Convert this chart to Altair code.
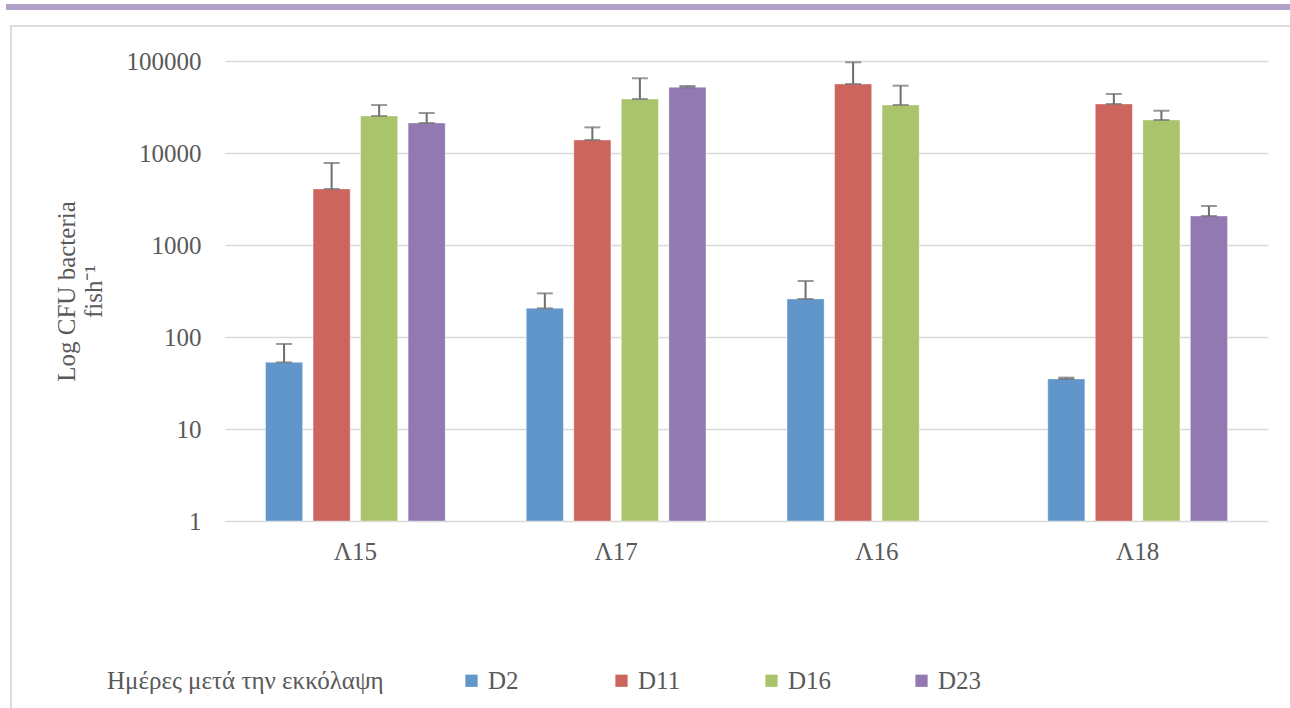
import altair as alt
import pandas as pd

# Fish groups (x axis order) and sampling days (series)
groups = ["Λ15", "Λ17", "Λ16", "Λ18"]
days = ["D2", "D11", "D16", "D23"]
day_colors = ["#6096CA", "#CD655F", "#AAC46C", "#9379B1"]

# Mean CFU per fish and the upper error for each group, one list per day
d2_mean = [53, 205, 259, 35]
d2_err = [31, 93, 147, 1.2]
d11_mean = [4060, 13840, 56200, 34100]
d11_err = [3730, 5160, 40600, 9700]
d16_mean = [25240, 38600, 33240, 22840]
d16_err = [7960, 26300, 20660, 5960]
d23_mean = [21200, 51800, None, 2066]
d23_err = [6000, 1700, None, 587]

y_ticks = [1, 10, 100, 1000, 10000, 100000]

means = {"D2": d2_mean, "D11": d11_mean, "D16": d16_mean, "D23": d23_mean}
errs = {"D2": d2_err, "D11": d11_err, "D16": d16_err, "D23": d23_err}

rows = []
for day in days:
    for g, m, e in zip(groups, means[day], errs[day]):
        if m is None:
            continue
        rows.append({"group": g, "day": day, "value": m, "upper": m + e, "base": 1})
df = pd.DataFrame(rows)

FONT = "Liberation Serif"
FS = 25
GREY = "#595959"

x_enc = alt.X(
    "group:N",
    sort=groups,
    scale=alt.Scale(paddingInner=0.3, paddingOuter=0.15),
    axis=alt.Axis(
        title=None, domain=False, ticks=False, labelAngle=0,
        labelFont=FONT, labelFontSize=FS, labelColor=GREY, labelPadding=18,
    ),
)
offset_enc = alt.XOffset(
    "day:N", sort=days, scale=alt.Scale(paddingInner=0.22, paddingOuter=0.03)
)
y_scale = alt.Scale(type="log", domain=[1, 100000])

bars = alt.Chart(df).mark_bar(strokeWidth=1, strokeOpacity=0.35, stroke="white").encode(
    x=x_enc,
    xOffset=offset_enc,
    y=alt.Y(
        "value:Q",
        scale=y_scale,
        axis=alt.Axis(
            values=y_ticks, format="d", domain=False, ticks=False,
            grid=True, gridColor="#D9D9D9", gridWidth=1.5,
            labelFont=FONT, labelFontSize=FS, labelColor=GREY, labelPadding=24,
            title=["Log CFU bacteria", "fish⁻¹"],
            titleFont=FONT, titleFontSize=FS, titleFontWeight="normal",
            titleColor=GREY, titlePadding=20,
        ),
    ),
    y2="base:Q",
    color=alt.Color(
        "day:N",
        sort=days,
        scale=alt.Scale(domain=days, range=day_colors),
        legend=alt.Legend(
            title="Ημέρες μετά την εκκόλαψη",
            orient="none", legendX=-118, legendY=607,
            direction="horizontal", columns=4, gridAlign="all",
            columnPadding=77, titleOrient="left", titlePadding=75,
            titleLimit=600, labelLimit=200,
            titleFont=FONT, titleFontSize=FS, titleFontWeight="normal",
            titleColor=GREY, titleBaseline="middle",
            labelFont=FONT, labelFontSize=FS, labelColor=GREY, labelOffset=4,
            symbolType="square", symbolSize=150, symbolStrokeWidth=0,
        ),
    ),
)

err_rule = alt.Chart(df).mark_rule(color="#6E6E6E", strokeWidth=2).encode(
    x=x_enc, xOffset=offset_enc,
    y=alt.Y("value:Q", scale=y_scale), y2="upper:Q",
)
cap_top = alt.Chart(df).mark_tick(color="#6E6E6E", thickness=2, size=16).encode(
    x=x_enc, xOffset=offset_enc, y=alt.Y("upper:Q", scale=y_scale),
)
cap_low = alt.Chart(df).mark_tick(color="#6E6E6E", thickness=2, size=16).encode(
    x=x_enc, xOffset=offset_enc, y=alt.Y("value:Q", scale=y_scale),
)

# Page decoration: accent strip along the top and the light chart frame
strip = alt.Chart(df).mark_rect(color="#B1A0C7").encode(
    x=alt.value(-219), x2=alt.value(1065), y=alt.value(-57), y2=alt.value(-51)
)
frame = alt.Chart(df).mark_rect(
    fillOpacity=0, stroke="#DCDCDC", strokeWidth=1.5
).encode(
    x=alt.value(-214), x2=alt.value(1100), y=alt.value(-35), y2=alt.value(700)
)

chart = alt.layer(frame, strip, bars, err_rule, cap_low, cap_top).properties(
    width=1043,
    height=460,
    autosize=alt.AutoSizeParams(type="none"),
    padding={"left": 225, "top": 61, "right": 22, "bottom": 187},
    background="white",
).configure_view(stroke=None)

chart.save("out.html", embed_options={"renderer": "svg", "actions": False})
